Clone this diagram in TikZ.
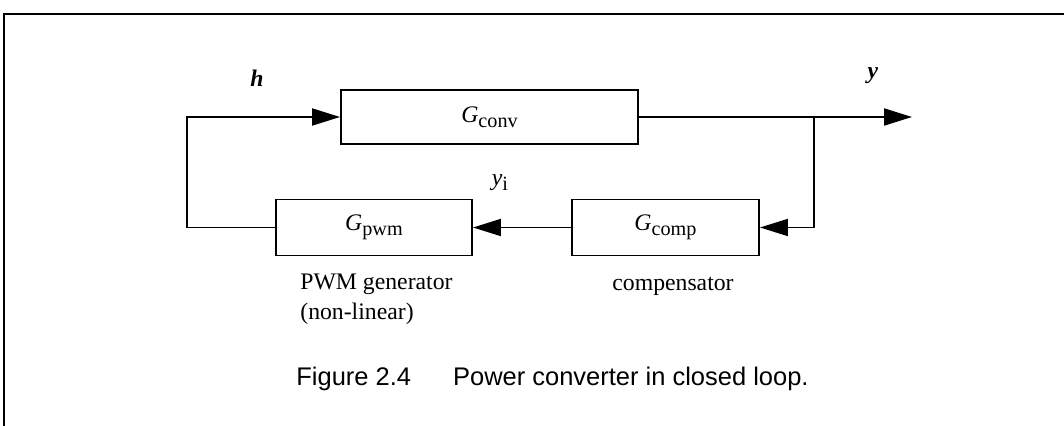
\documentclass[tikz,border=0pt]{standalone}
\usepackage{fontspec}
\setmainfont{Liberation Serif}
\newfontfamily\capfont{Liberation Sans}
\usetikzlibrary{arrows.meta}
\newcommand{\gsub}[2]{\textit{#1}\raisebox{-0.45ex}{\fontsize{11.5}{13}\selectfont #2}}
\tikzset{
    blockbox/.style = {draw, line width=1.1pt, minimum height=1.12cm, inner sep=0pt},
    sigline/.style = {line width=1.1pt},
    sigarrow/.style = {sigline, -{Triangle[length=5.6mm,width=3.4mm]}}
}
\begin{document}
\begin{tikzpicture}[font=\fontsize{13.5}{17}\selectfont]
            \useasboundingbox (0,0) rectangle (21.28,-8.52);
            % page frame
            \draw[line width=1.6pt] (21.28,-0.28) -- (0.08,-0.28) -- (0.08,-8.52);
            % blocks
            \node[blockbox, minimum width=5.94cm, minimum height=1.08cm] (conv) at (9.79,-2.34) {\gsub{G}{conv}};
            \node[blockbox, minimum width=3.92cm] (pwm) at (7.48,-4.55) {\gsub{G}{pwm}};
            \node[blockbox, minimum width=3.74cm] (comp) at (13.31,-4.55) {\gsub{G}{comp}};
            \coordinate (out) at (18.24,-2.34);
            \coordinate (tap) at (16.28,-2.34);
            \coordinate (back) at (3.74,-2.34);
            % signals
            \draw[sigarrow] (conv.east) -- (out);
            \draw[sigarrow] (tap) |- (comp.east);
            \draw[sigarrow] (comp.west) -- (pwm.east);
            \draw[sigarrow] (pwm.west) -| (back) -- (conv.west);
            % labels
            \node (hlbl) at (5.14,-1.56) {\textbf{\textit{h}}};
            \node (ylbl) at (17.46,-1.52) {\textbf{\textit{y}}};
            \node (yilbl) at (10.0,-3.66) {\gsub{y}{i}};
            \node[anchor=north west, align=left, inner sep=0pt] (pwmtxt) at (6.0,-5.48) {PWM generator\\(non-linear)};
            \node[anchor=base, inner sep=0pt] (comptxt) at (13.46,-5.8) {compensator};
            \node[font=\capfont\fontsize{14.5}{18}\selectfont, anchor=base] (caption) at (11.05,-7.7) {Figure 2.4\hspace{0.84cm}Power converter in closed loop.};
        \end{tikzpicture}
\end{document}
